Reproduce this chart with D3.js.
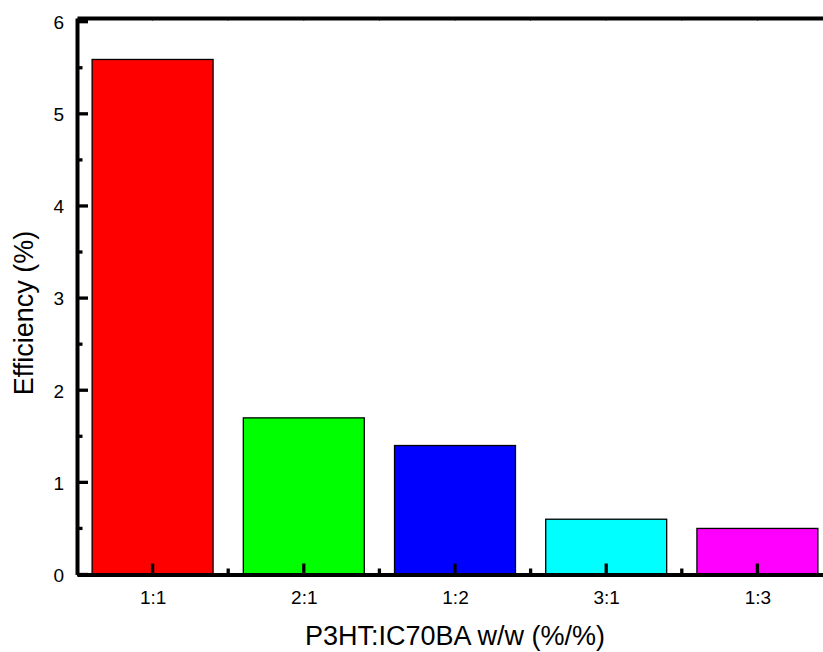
<!DOCTYPE html>
<html>
<head>
<meta charset="utf-8">
<script src="https://cdn.jsdelivr.net/npm/d3@7"></script>
<style>
  html, body { margin: 0; padding: 0; background: #fff; }
  svg { display: block; }
</style>
</head>
<body>
<svg id="chart" width="823" height="652"></svg>
<script>
// Blend ratios and measured power conversion efficiency
const ratios = ["1:1", "2:1", "1:2", "3:1", "1:3"];
const efficiency = [5.59, 1.7, 1.4, 0.6, 0.5];
const barColors = ["#ff0000", "#00ff00", "#0000ff", "#00ffff", "#ff00ff"];
const yTicks = [0, 1, 2, 3, 4, 5, 6];
const yMinorTicks = [0.5, 1.5, 2.5, 3.5, 4.5, 5.5];

const xTitle = "P3HT:IC70BA w/w (%/%)";
const yTitle = "Efficiency (%)";

const FONT = "'Liberation Sans', Arial, sans-serif";
const svg = d3.select("#chart").attr("font-family", FONT);

const plotLeft = 77, plotRight = 833, plotTop = 18, plotBottom = 574.5;

// Category positions on a continuous index axis (1..n)
const xIdx = d3.scaleLinear().domain([0.5, ratios.length + 0.5]).range([plotLeft, plotRight]);
const x = d3.scaleBand().domain(ratios).range([plotLeft, plotRight])
  .paddingInner(0.2).paddingOuter(0.1);
const y = d3.scaleLinear().domain([0, 6.04]).range([plotBottom, plotTop]);

const xMajor = d3.range(1, ratios.length + 1);
const xMinor = d3.range(1.5, ratios.length, 1);

// Bars
svg.append("g").selectAll("rect")
  .data(ratios)
  .join("rect")
  .attr("x", d => x(d))
  .attr("width", x.bandwidth())
  .attr("y", (d, i) => y(efficiency[i]))
  .attr("height", (d, i) => y(0) - y(efficiency[i]))
  .attr("fill", (d, i) => barColors[i])
  .attr("stroke", "#000")
  .attr("stroke-width", 1.3);

// Inward tick marks
const ticks = svg.append("g").attr("stroke", "#000").attr("stroke-width", 3.3);
ticks.selectAll("line.ymaj").data(yTicks).join("line").attr("class", "ymaj")
  .attr("x1", plotLeft).attr("x2", plotLeft + 11)
  .attr("y1", d => y(d)).attr("y2", d => y(d));
ticks.selectAll("line.ymin").data(yMinorTicks).join("line").attr("class", "ymin")
  .attr("x1", plotLeft).attr("x2", plotLeft + 5.5)
  .attr("y1", d => y(d)).attr("y2", d => y(d));
ticks.selectAll("line.xmaj").data(xMajor).join("line").attr("class", "xmaj")
  .attr("x1", d => xIdx(d)).attr("x2", d => xIdx(d))
  .attr("y1", plotBottom).attr("y2", plotBottom - 11);
ticks.selectAll("line.xmin").data(xMinor).join("line").attr("class", "xmin")
  .attr("x1", d => xIdx(d)).attr("x2", d => xIdx(d))
  .attr("y1", plotBottom).attr("y2", plotBottom - 6);
// faint ticks hanging from the top frame
svg.append("g").attr("stroke", "#777").attr("stroke-width", 1)
  .selectAll("line").data(xMajor.concat(xMinor)).join("line")
  .attr("x1", d => xIdx(d)).attr("x2", d => xIdx(d))
  .attr("y1", plotTop).attr("y2", plotTop + 3);

function styleAxis(g) {
  g.attr("font-family", FONT);
  g.select(".domain").attr("stroke", "#000").attr("stroke-width", 4);
  g.selectAll(".tick line").remove();
  g.selectAll(".tick text").attr("fill", "#000").attr("font-size", 19);
}

// Left axis labels and line
const yAxis = svg.append("g")
  .attr("transform", `translate(${plotLeft},0)`)
  .call(d3.axisLeft(y).tickValues(yTicks).tickFormat(d3.format("d"))
    .tickSize(0).tickPadding(13))
  .call(styleAxis);
yAxis.selectAll(".tick text").attr("dy", "0.36em");

// Top frame line
svg.append("g")
  .attr("transform", `translate(0,${plotTop})`)
  .call(d3.axisTop(xIdx).tickValues([]).tickSize(0))
  .call(styleAxis);

// Bottom axis labels and line
const xAxis = svg.append("g")
  .attr("transform", `translate(0,${plotBottom})`)
  .call(d3.axisBottom(xIdx).tickValues(xMajor)
    .tickFormat(i => ratios[i - 1]).tickSize(0))
  .call(styleAxis);
xAxis.selectAll(".tick text").attr("y", 29).attr("dy", 0);

// Axis titles
svg.append("text")
  .attr("x", (plotLeft + plotRight) / 2)
  .attr("y", 645)
  .attr("text-anchor", "middle")
  .attr("font-size", 27)
  .attr("fill", "#000")
  .text(xTitle);

svg.append("text")
  .attr("transform", `translate(33,${313}) rotate(-90)`)
  .attr("text-anchor", "middle")
  .attr("font-size", 27)
  .attr("fill", "#000")
  .text(yTitle);
</script>
</body>
</html>
